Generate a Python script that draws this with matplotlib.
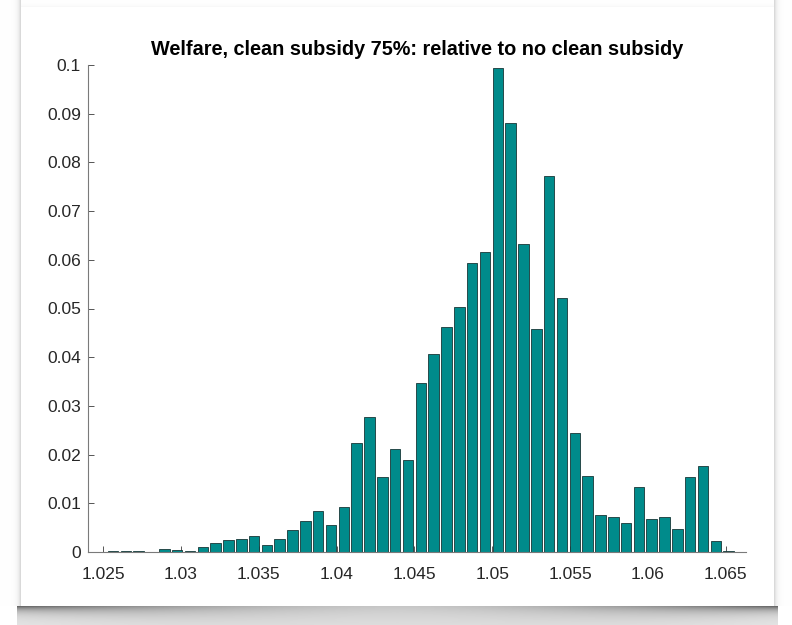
import numpy as np
import matplotlib
matplotlib.use('Agg')
import matplotlib.pyplot as plt

# ---------------- data ----------------
bin_min = 1.0244
bin_max = 1.0656
probabilities = [
    0.0001, 0.0002, 0.0002, 0.0002, 0.0000, 0.0007, 0.0005, 0.0002, 0.0011, 0.0018,
    0.0024, 0.0026, 0.0033, 0.0014, 0.0026, 0.0046, 0.0063, 0.0084, 0.0055, 0.0093,
    0.0223, 0.0278, 0.0155, 0.0211, 0.0189, 0.0346, 0.0407, 0.0463, 0.0504, 0.0593,
    0.0615, 0.0993, 0.0880, 0.0632, 0.0458, 0.0772, 0.0521, 0.0245, 0.0156, 0.0077,
    0.0072, 0.0060, 0.0133, 0.0068, 0.0071, 0.0047, 0.0155, 0.0177, 0.0023, 0.0003,
]
xticks = [1.025, 1.03, 1.035, 1.04, 1.045, 1.05, 1.055, 1.06, 1.065]
xtick_labels = ['1.025', '1.03', '1.035', '1.04', '1.045', '1.05', '1.055', '1.06', '1.065']
yticks = [0, 0.01, 0.02, 0.03, 0.04, 0.05, 0.06, 0.07, 0.08, 0.09, 0.1]
ytick_labels = ['0', '0.01', '0.02', '0.03', '0.04', '0.05', '0.06', '0.07', '0.08', '0.09', '0.1']
title = 'Welfare, clean subsidy 75%: relative to no clean subsidy'

plt.rcParams['font.family'] = ['Liberation Sans', 'DejaVu Sans']

W, H = 792, 625
fig = plt.figure(figsize=(W / 100, H / 100), dpi=100, facecolor='white')

# ---------------- background frame with shadow ----------------
bg = np.ones((H, W))
xx, yy = np.meshgrid(np.arange(W), np.arange(H))
px0, px1, py0, py1 = 21, 773, 7, 606
left = (xx < px0) & (yy < py1)
bg[left] -= 0.22 * np.exp(-(px0 - xx[left]) / 2.5)
right = (xx > px1) & (yy < py1)
bg[right] -= 0.22 * np.exp(-(xx[right] - px1) / 2.5)
top = (yy < py0) & (xx >= px0) & (xx <= px1)
bg[top] -= 0.04 * np.exp(-(py0 - yy[top]) / 2.0)
bot = (yy >= py1) & (xx >= px0 - 4) & (xx <= px1 + 4)
u = np.abs(2 * (xx[bot] - (px0 + px1) / 2) / (px1 - px0))
dy = yy[bot] - py1
bg[bot] -= (0.12 + 0.36 * u ** 1.6) * np.exp(-dy / (5 + 10 * (1 - u))) + 0.10
bg = np.clip(bg, 0, 1)
bax = fig.add_axes([0, 0, 1, 1], zorder=-10)
bax.imshow(np.dstack([bg, bg, bg]), extent=[0, W, H, 0], aspect='auto', interpolation='bilinear')
bax.set_xlim(0, W)
bax.set_ylim(H, 0)
bax.axis('off')

# ---------------- histogram ----------------
ax = fig.add_axes([88 / W, (H - 552) / H, (746 - 88) / W, (552 - 65) / H])
ax.patch.set_alpha(0)
edges = np.linspace(bin_min, bin_max, len(probabilities) + 1)
centers = (edges[:-1] + edges[1:]) / 2
width = edges[1] - edges[0]
ax.bar(centers, probabilities, width=width * 0.82, color='#008b8b',
       edgecolor='#173636', linewidth=0.6, zorder=2)

ax.set_xlim(1.02403, 1.0663)
ax.set_ylim(0, 0.1)
ax.set_xticks(xticks)
ax.set_xticklabels(xtick_labels)
ax.set_yticks(yticks)
ax.set_yticklabels(ytick_labels)
for s in ['top', 'right']:
    ax.spines[s].set_visible(False)
for s in ['left', 'bottom']:
    ax.spines[s].set_color('#7a7a7a')
    ax.spines[s].set_linewidth(0.8)
ax.tick_params(direction='in', length=4, width=0.7, color='#555555',
               labelsize=12.5, labelcolor='#262626')
ax.tick_params(axis='x', pad=10.5)
ax.tick_params(axis='y', pad=5)

ax.set_title(title, fontsize=14.3, fontweight='bold', color='black', pad=7)

fig.savefig('out.png', dpi=100, facecolor='white')
